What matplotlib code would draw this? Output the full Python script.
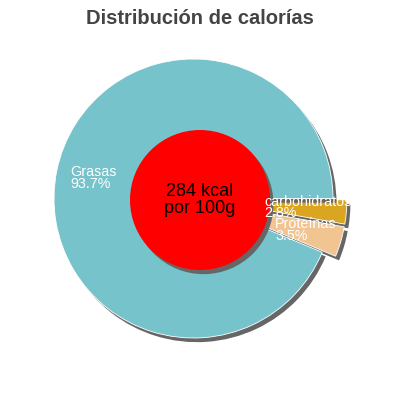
import numpy as np
import matplotlib
matplotlib.use("Agg")
import matplotlib.pyplot as plt
import matplotlib.patheffects as pe
from matplotlib.patches import Circle

plt.rcParams["font.family"] = ["Liberation Sans", "DejaVu Sans"]

# -----------------------
# DATA
# -----------------------
labels = ["carbohidratos", "Proteínas", "Grasas"]
values = [2.8, 3.5, 93.7]
colors = ["#DAA520", "#F0C592", "#77C3CB"]
explode = [0.1, 0.1, 0.0]
title = "Distribución de calorías"
center_text = "284 kcal\npor 100g"

# label layout (distance from centre, vertical nudge in radius units)
label_dist = [0.41, 0.51, 0.90]
label_dy = [-0.02, -0.055, -0.03]

# -----------------------
# FIGURE
# -----------------------
fig = plt.figure(figsize=(4, 4), dpi=100)
ax = fig.add_axes([0, 0, 1, 1])

shadow = [pe.withSimplePatchShadow(offset=(2.5, -3), shadow_rgbFace="#666666", alpha=1.0)]

wedges, _ = ax.pie(
    values,
    colors=colors,
    explode=explode,
    startangle=0,
    counterclock=False,
    radius=1.0,
    wedgeprops=dict(edgecolor="white", linewidth=0.6),
)
for w in wedges:
    w.set_path_effects(shadow)

# pixel layout: pie centre and radius
r_px = 139.5
cx, cy = 193.5, 400 - 198.5
ax.set_xlim(-cx / r_px, (400 - cx) / r_px)
ax.set_ylim(-cy / r_px, (400 - cy) / r_px)
ax.set_aspect("equal")
ax.axis("off")

# labels
for w, name, v, d, dy, ex in zip(wedges, labels, values, label_dist, label_dy, explode):
    mid = np.deg2rad((w.theta1 + w.theta2) / 2)
    x = (d + ex) * np.cos(mid)
    y = (d + ex) * np.sin(mid) + dy
    ax.text(x, y, f"{name}\n{v}%", color="white", fontsize=10.3,
            ha="left", va="center", linespacing=0.8, zorder=5)

# centre hole (centred on the figure)
hole_x = (200 - cx) / r_px
hole_y = (200 - cy) / r_px
hole = Circle((hole_x, hole_y), 70 / r_px, facecolor="#FF0000", edgecolor="none", zorder=3)
hole.set_path_effects(shadow)
ax.add_patch(hole)
ax.text(hole_x, hole_y, center_text, ha="center", va="center", fontsize=13,
        color="black", zorder=4, linespacing=0.95)

fig.text(0.5, 1 - 18 / 400, title, ha="center", va="center", fontsize=14.5,
         fontweight="bold", color="#444444")

fig.savefig("out.png", dpi=100)
